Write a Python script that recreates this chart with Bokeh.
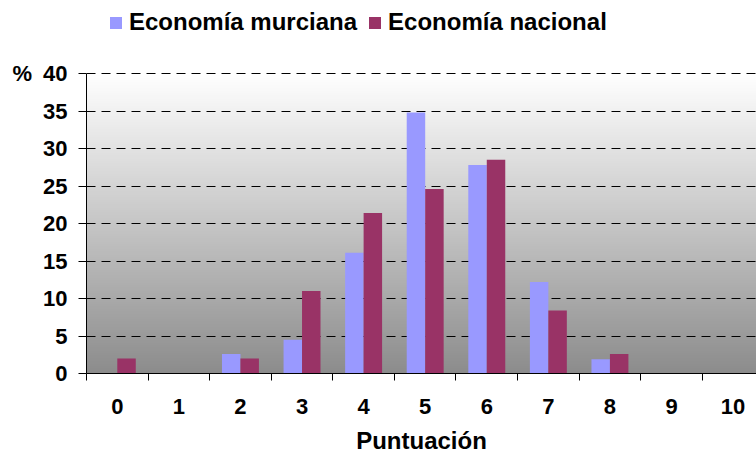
import numpy as np
from bokeh.plotting import figure
from bokeh.models import Range1d, FixedTicker, Legend, LegendItem, ColumnDataSource
from bokeh.transform import dodge
from bokeh.embed import file_html
from bokeh.resources import INLINE

categories = [0, 1, 2, 3, 4, 5, 6, 7, 8, 9, 10]
murciana = [0.0, 0.0, 2.6, 4.5, 16.1, 34.8, 27.8, 12.2, 1.9, 0.0, 0.0]
nacional = [2.0, 0.0, 2.0, 11.0, 21.4, 24.6, 28.5, 8.4, 2.6, 0.0, 0.0]
series_names = ["Economía murciana", "Economía nacional"]
colors = ["#9999ff", "#993366"]
y_ticks = [0, 5, 10, 15, 20, 25, 30, 35, 40]
Y_MAX = 40

FONT = "Liberation Sans"

# frame spans the whole height above the x axis; the data area (0-40) occupies its lower 300px
p = figure(width=756, height=457, output_backend="svg", toolbar_location=None,
           x_range=Range1d(-0.5, 10.38), y_range=Range1d(0, Y_MAX * 373 / 300),
           min_border_left=86, min_border_right=0, min_border_top=0, min_border_bottom=84)
p.outline_line_color = None
p.background_fill_color = "white"
p.border_fill_color = "white"

# gradient background of the data area
n = 256
img = np.zeros((n, 1), dtype=np.uint32)
view = img.view(dtype=np.uint8).reshape((n, 1, 4))
for i in range(n):
    t = i / (n - 1)
    g = int(round(0x8c + (0xff - 0x8c) * t))
    view[i, 0, :] = [g, g, g, 255]
bg = p.image_rgba(image=[img], x=-0.5, y=0, dw=11, dh=Y_MAX)
bg.level = "image"

src = ColumnDataSource(dict(x=categories, m=murciana, n=nacional))
r1 = p.vbar(x=dodge("x", -0.15), top="m", width=0.3, source=src,
            fill_color=colors[0], line_color=None)
r2 = p.vbar(x=dodge("x", 0.15), top="n", width=0.3, source=src,
            fill_color=colors[1], line_color=None)

# x axis
p.xaxis.ticker = FixedTicker(ticks=categories, minor_ticks=[c - 0.5 for c in categories] + [10.5])
p.xaxis.major_tick_line_color = None
p.xaxis.major_tick_out = 0
p.xaxis.major_tick_in = 0
p.xaxis.minor_tick_in = 0
p.xaxis.minor_tick_out = 7
p.xaxis.minor_tick_line_color = "black"
p.xaxis.axis_line_color = "black"
p.xaxis.major_label_text_font = FONT
p.xaxis.major_label_text_font_style = "bold"
p.xaxis.major_label_text_font_size = "22px"
p.xaxis.major_label_text_color = "black"
p.xaxis.major_label_standoff = 18
p.xaxis.axis_label = "Puntuación"
p.xaxis.axis_label_text_font = FONT
p.xaxis.axis_label_text_font_style = "bold"
p.xaxis.axis_label_text_font_size = "24px"
p.xaxis.axis_label_text_color = "black"
p.xaxis.axis_label_standoff = 10

# y axis
p.yaxis.ticker = FixedTicker(ticks=y_ticks, minor_ticks=[])
p.yaxis.bounds = (0, Y_MAX)
p.yaxis.major_tick_in = 0
p.yaxis.major_tick_out = 8
p.yaxis.major_tick_line_color = "black"
p.yaxis.axis_line_color = "black"
p.yaxis.major_label_text_font = FONT
p.yaxis.major_label_text_font_style = "bold"
p.yaxis.major_label_text_font_size = "22px"
p.yaxis.major_label_text_color = "black"
p.yaxis.major_label_standoff = 11
p.yaxis.major_label_overrides = {40: "%\u200240"}

p.xgrid.grid_line_color = None
p.ygrid.grid_line_color = "black"
p.ygrid.grid_line_dash = "9 6"
p.ygrid.grid_line_width = 1

legend = Legend(items=[LegendItem(label=series_names[0], renderers=[r1]),
                       LegendItem(label=series_names[1], renderers=[r2])],
                location=(22, 337), orientation="horizontal",
                label_text_font=FONT, label_text_font_style="bold",
                label_text_font_size="24px", label_text_color="black",
                glyph_width=15, glyph_height=15, label_standoff=6, spacing=10,
                padding=0, margin=0, background_fill_alpha=0, border_line_color=None)
p.add_layout(legend)

open("out.html", "w").write(file_html(p, INLINE))
